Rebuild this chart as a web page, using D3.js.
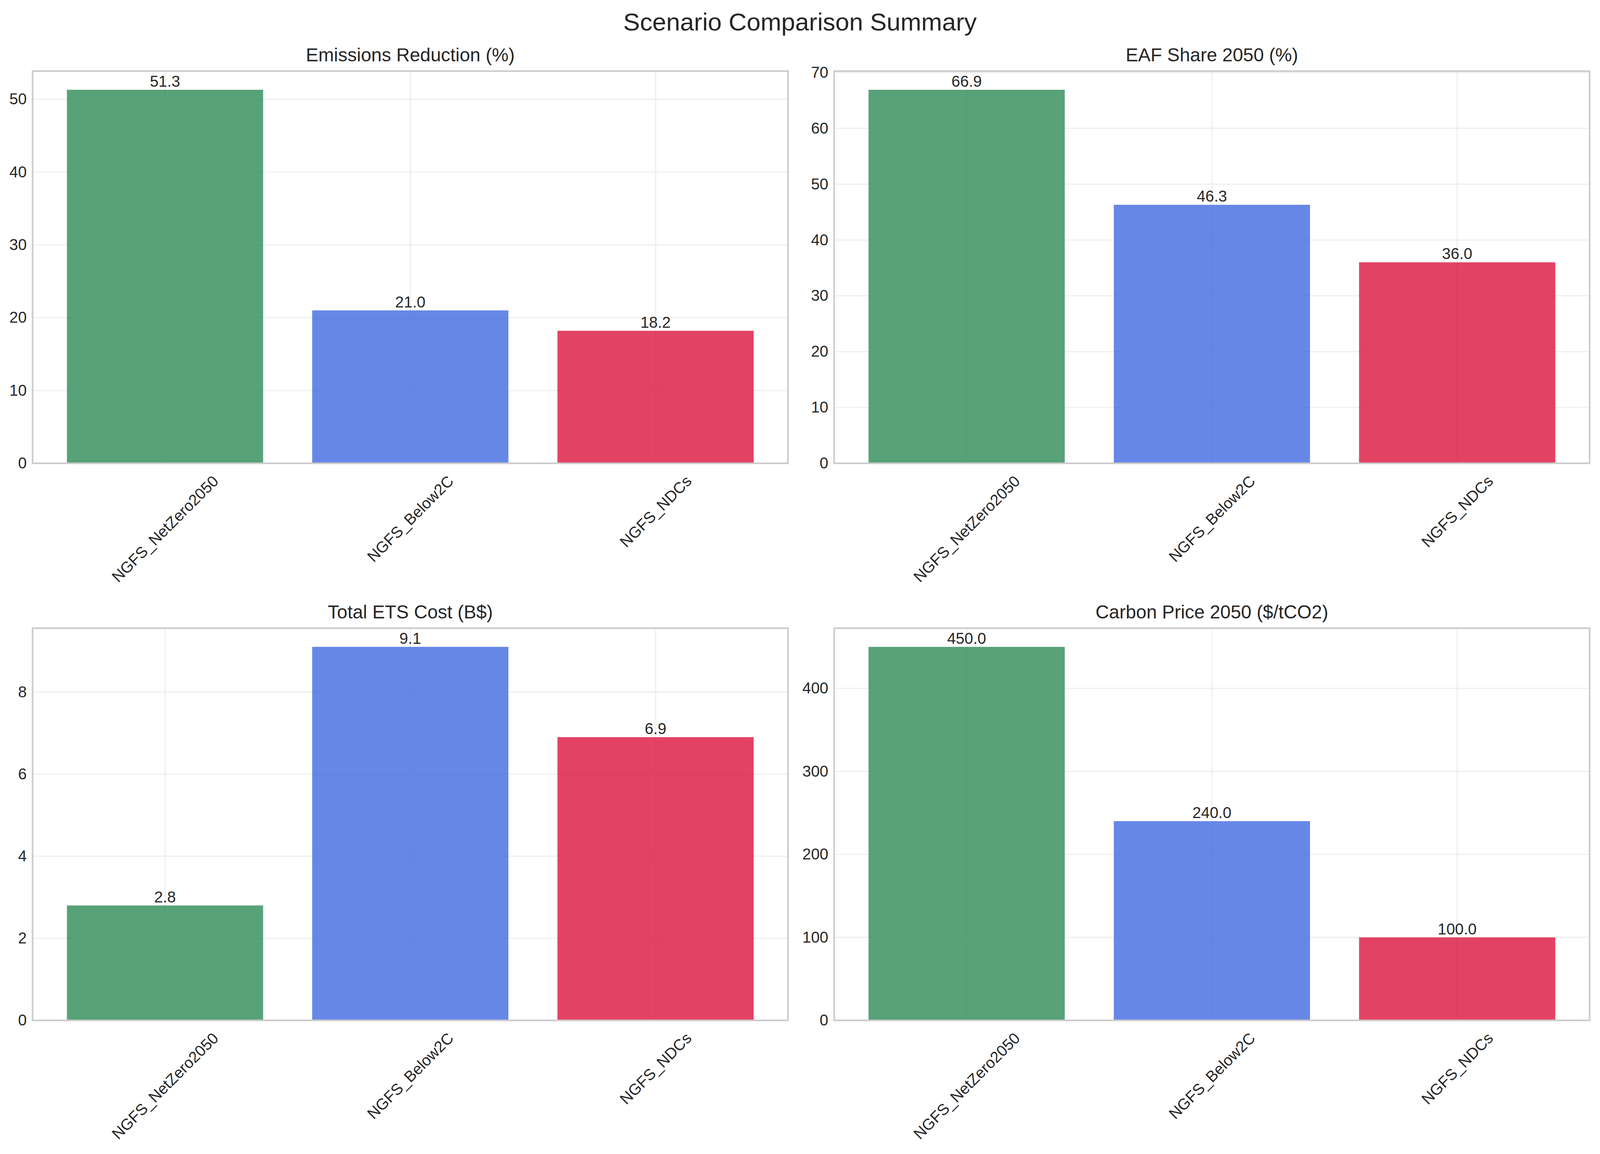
<!DOCTYPE html>
<html>
<head>
<meta charset="utf-8">
<script src="https://cdn.jsdelivr.net/npm/d3@7"></script>
<style>
    html, body { margin: 0; padding: 0; background: #ffffff; overflow: hidden; }
    svg { display: block; font-family: "Liberation Sans", Arial, sans-serif; }
    text { fill: #262626; }
</style>
</head>
<body>
<svg id="chart"></svg>
<script>
const scenarios = ["NGFS_NetZero2050", "NGFS_Below2C", "NGFS_NDCs"];
const barColors = ["#2E8B57", "#4169E1", "#DC143C"];

const chartTitle = "Scenario Comparison Summary";
const panelTitles = ["Emissions Reduction (%)", "EAF Share 2050 (%)", "Total ETS Cost (B$)", "Carbon Price 2050 ($/tCO2)"];

const emissionsReduction = [51.3, 21.0, 18.2];
const eafShare = [66.9, 46.3, 36.0];
const etsCost = [2.8, 9.1, 6.9];
const carbonPrice = [450.0, 240.0, 100.0];

const emissionsTicks = [0, 10, 20, 30, 40, 50];
const eafTicks = [0, 10, 20, 30, 40, 50, 60, 70];
const etsTicks = [0, 2, 4, 6, 8];
const carbonTicks = [0, 100, 200, 300, 400];

// the layout is measured on a 4469x2954 figure, the browser window can be narrower
const width = window.innerWidth, height = window.innerHeight;
const xK = width / 4469, yK = height / 2954;
const fontK = Math.sqrt(xK * yK);

const panelWidth = 2110 * xK, panelHeight = 1004 * yK;
const columns = [91 * xK, 2330 * xK];
const rows = [182 * yK, 1608 * yK];
const tickFont = 41.67 * fontK;

const svg = d3.select("#chart").attr("width", width).attr("height", height);

svg.append("text")
    .attr("x", width / 2)
    .attr("y", 78 * yK)
    .attr("text-anchor", "middle")
    .attr("font-size", 66.7 * fontK)
    .text(chartTitle);

function drawPanel(left, top, title, values, ticks) {
    let g = svg.append("g").attr("transform", "translate(" + left + "," + top + ")");

    // same spacing as bars of width 0.8 with a 5% margin on the x axis
    let xScale = d3.scaleBand()
        .domain(scenarios)
        .range([0, panelWidth])
        .paddingInner(0.2)
        .paddingOuter(0.14);

    let yScale = d3.scaleLinear()
        .domain([0, d3.max(values) * 1.05])
        .range([panelHeight, 0]);

    // grid goes under the bars
    g.append("g").selectAll("line")
        .data(ticks)
        .join("line")
        .attr("x1", 0)
        .attr("x2", panelWidth)
        .attr("y1", d => yScale(d))
        .attr("y2", d => yScale(d))
        .attr("stroke", "#cccccc")
        .attr("stroke-opacity", 0.3)
        .attr("stroke-width", 3.3);

    g.append("g").selectAll("line")
        .data(scenarios)
        .join("line")
        .attr("x1", d => xScale(d) + xScale.bandwidth() / 2)
        .attr("x2", d => xScale(d) + xScale.bandwidth() / 2)
        .attr("y1", 0)
        .attr("y2", panelHeight)
        .attr("stroke", "#cccccc")
        .attr("stroke-opacity", 0.3)
        .attr("stroke-width", 3.3);

    g.append("g").selectAll("rect")
        .data(values)
        .join("rect")
        .attr("x", (d, i) => xScale(scenarios[i]))
        .attr("y", d => yScale(d))
        .attr("width", xScale.bandwidth())
        .attr("height", d => panelHeight - yScale(d))
        .attr("fill", (d, i) => barColors[i])
        .attr("fill-opacity", 0.8);

    g.append("rect")
        .attr("width", panelWidth)
        .attr("height", panelHeight)
        .attr("fill", "none")
        .attr("stroke", "#cccccc")
        .attr("stroke-width", 4.2);

    g.append("g").selectAll("text")
        .data(values)
        .join("text")
        .attr("x", (d, i) => xScale(scenarios[i]) + xScale.bandwidth() / 2)
        .attr("y", d => yScale(d) - 8)
        .attr("text-anchor", "middle")
        .attr("font-size", tickFont)
        .text(d => d.toFixed(1));

    g.append("text")
        .attr("x", panelWidth / 2)
        .attr("y", -25 * yK)
        .attr("text-anchor", "middle")
        .attr("font-size", 50 * fontK)
        .text(title);

    let yAxisG = g.append("g")
        .call(d3.axisLeft(yScale).tickValues(ticks).tickSize(0).tickPadding(15));
    yAxisG.select(".domain").remove();
    yAxisG.selectAll("text")
        .attr("fill", "#262626")
        .attr("font-family", "Liberation Sans")
        .attr("font-size", tickFont);

    let xAxisG = g.append("g")
        .attr("transform", "translate(0," + panelHeight + ")")
        .call(d3.axisBottom(xScale).tickSize(0).tickPadding(0));
    xAxisG.select(".domain").remove();
    // rotated about the label centre, with the rotated box hanging below the axis
    xAxisG.selectAll("text")
        .attr("fill", "#262626")
        .attr("font-family", "Liberation Sans")
        .attr("font-size", tickFont)
        .attr("y", 0)
        .attr("dy", 0)
        .attr("dominant-baseline", "central")
        .attr("transform", function () {
            let drop = 40 * fontK + this.getComputedTextLength() * Math.SQRT1_2 / 2;
            return "translate(0," + drop + ") rotate(-45)";
        });
}

drawPanel(columns[0], rows[0], panelTitles[0], emissionsReduction, emissionsTicks);
drawPanel(columns[1], rows[0], panelTitles[1], eafShare, eafTicks);
drawPanel(columns[0], rows[1], panelTitles[2], etsCost, etsTicks);
drawPanel(columns[1], rows[1], panelTitles[3], carbonPrice, carbonTicks);
</script>
</body>
</html>
